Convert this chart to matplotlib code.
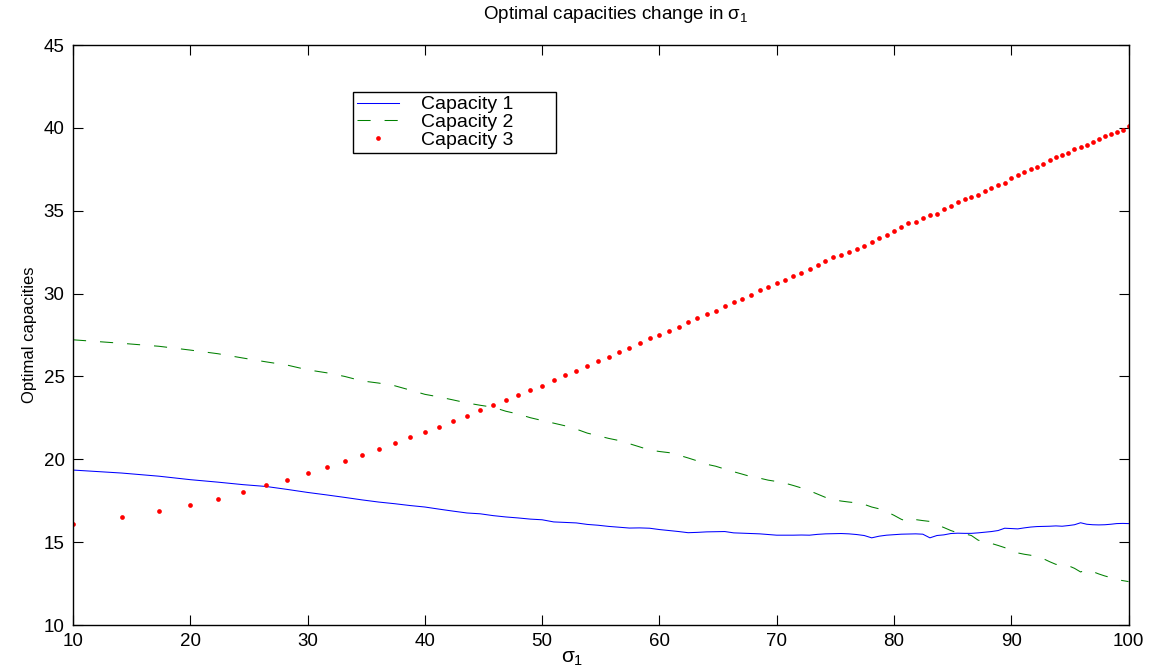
import numpy as np
import matplotlib
matplotlib.use("Agg")
import matplotlib.pyplot as plt

# sigma_1 grid: variance 100, 200, ..., 10000
variance = np.arange(100, 10001, 100)
sigma1 = np.sqrt(variance)

capacity1 = [
    19.35, 19.17, 18.98, 18.77, 18.62, 18.47, 18.36, 18.18, 18.00, 17.85,
    17.70, 17.55, 17.42, 17.32, 17.21, 17.12, 16.99, 16.87, 16.76, 16.71,
    16.60, 16.52, 16.46, 16.39, 16.35, 16.22, 16.19, 16.16, 16.07, 16.02,
    15.95, 15.90, 15.85, 15.86, 15.84, 15.76, 15.70, 15.64, 15.57, 15.59,
    15.62, 15.63, 15.64, 15.56, 15.54, 15.52, 15.50, 15.46, 15.42, 15.42,
    15.42, 15.43, 15.42, 15.47, 15.50, 15.51, 15.52, 15.50, 15.46, 15.40,
    15.26, 15.36, 15.42, 15.45, 15.48, 15.49, 15.50, 15.48, 15.26, 15.40,
    15.44, 15.52, 15.54, 15.53, 15.53, 15.56, 15.60, 15.64, 15.70, 15.84,
    15.82, 15.80, 15.86, 15.91, 15.94, 15.95, 15.96, 15.98, 15.96, 16.00,
    16.05, 16.17, 16.08, 16.05, 16.04, 16.05, 16.08, 16.12, 16.13, 16.12,
]

capacity2 = [
    27.21, 27.00, 26.82, 26.59, 26.37, 26.11, 25.88, 25.68, 25.40, 25.22,
    25.00, 24.73, 24.60, 24.44, 24.18, 23.92, 23.76, 23.58, 23.40, 23.26,
    23.14, 22.90, 22.73, 22.51, 22.34, 22.18, 22.02, 21.82, 21.58, 21.42,
    21.26, 21.13, 20.94, 20.75, 20.56, 20.47, 20.40, 20.25, 20.08, 19.90,
    19.70, 19.58, 19.41, 19.25, 19.10, 18.95, 18.86, 18.74, 18.66, 18.56,
    18.42, 18.27, 18.10, 17.90, 17.70, 17.56, 17.48, 17.42, 17.37, 17.28,
    17.12, 17.01, 16.84, 16.62, 16.38, 16.22, 16.36, 16.30, 16.25, 16.05,
    15.88, 15.70, 15.56, 15.50, 15.40, 15.12, 15.01, 14.92, 14.80, 14.67,
    14.50, 14.35, 14.27, 14.21, 14.12, 14.00, 13.82, 13.66, 13.62, 13.58,
    13.42, 13.20, 13.34, 13.22, 13.08, 12.96, 12.86, 12.74, 12.68, 12.62,
]

capacity3 = [
    16.12, 16.49, 16.85, 17.27, 17.63, 18.02, 18.42, 18.78, 19.15, 19.55,
    19.87, 20.28, 20.62, 20.96, 21.32, 21.67, 21.97, 22.29, 22.63, 22.95,
    23.26, 23.58, 23.89, 24.19, 24.45, 24.77, 25.09, 25.35, 25.64, 25.92,
    26.16, 26.46, 26.73, 27.00, 27.29, 27.51, 27.75, 28.01, 28.26, 28.50,
    28.78, 28.96, 29.22, 29.48, 29.66, 29.93, 30.19, 30.40, 30.62, 30.84,
    31.05, 31.26, 31.46, 31.72, 31.94, 32.18, 32.35, 32.51, 32.69, 32.89,
    33.11, 33.33, 33.53, 33.80, 34.02, 34.26, 34.34, 34.54, 34.72, 34.83,
    35.13, 35.31, 35.51, 35.71, 35.81, 35.95, 36.17, 36.40, 36.54, 36.66,
    36.96, 37.18, 37.32, 37.49, 37.61, 37.81, 38.07, 38.23, 38.35, 38.47,
    38.73, 38.85, 38.94, 39.15, 39.34, 39.48, 39.64, 39.78, 39.88, 40.10,
]

labels = ["Capacity 1", "Capacity 2", "Capacity 3"]
x_ticks = list(range(10, 101, 10))
y_ticks = list(range(10, 46, 5))

plt.rcParams["font.family"] = ["Liberation Sans", "DejaVu Sans"]
plt.rcParams["mathtext.fontset"] = "custom"
plt.rcParams["mathtext.rm"] = "Liberation Sans"
plt.rcParams["mathtext.it"] = "Liberation Sans"

fig = plt.figure(figsize=(11.57, 6.70), dpi=100)
ax = fig.add_axes([73 / 1157, 45 / 670, 1055.5 / 1157, 580 / 670])

ax.plot(sigma1, capacity1, color="#0000ff", lw=0.75, label=labels[0])
ax.plot(sigma1, capacity2, color="#008000", lw=0.75,
        linestyle=(0, (12.6, 13.4)), label=labels[1])
ax.plot(sigma1, capacity3, color="#ff0000", linestyle="none", marker="o",
        markersize=3.4, markeredgewidth=0, label=labels[2])

ax.set_xlim(10, 100)
ax.set_ylim(10, 45)
ax.set_xticks(x_ticks)
ax.set_yticks(y_ticks)
ax.tick_params(direction="in", length=7.5, width=0.8, top=True, right=True,
               labelsize=13.5, pad=6)
for sp in ax.spines.values():
    sp.set_linewidth(1.0)

ax.set_title(r"Optimal capacities change in $\sigma_1$", fontsize=13.5,
             x=0.514, pad=19)
ax.set_xlabel(r"$\sigma_1$", fontsize=15)
ax.xaxis.set_label_coords(0.473, -0.042)
ax.set_ylabel("Optimal capacities", fontsize=12, labelpad=5,
              family=["Liberation Sans Narrow", "Liberation Sans"])

# legend box spans about 203 px wide in the reference
leg = ax.legend(loc="upper left", bbox_to_anchor=(0.265, 0.819, 0.1923, 0.1),
                mode="expand", borderaxespad=0, fontsize=14, fancybox=False,
                edgecolor="black", framealpha=1, handlelength=2.2,
                labelspacing=0.0, borderpad=0.2, handletextpad=1.1)
leg.get_frame().set_linewidth(1.0)

fig.savefig("out.png", dpi=100)
